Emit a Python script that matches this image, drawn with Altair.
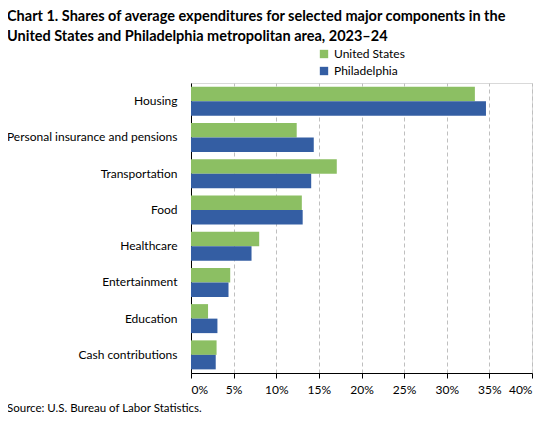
import altair as alt
import pandas as pd

categories = ["Housing", "Personal insurance and pensions", "Transportation", "Food",
              "Healthcare", "Entertainment", "Education", "Cash contributions"]
us_values = [33.3, 12.4, 17.1, 13.0, 8.0, 4.6, 2.0, 3.0]
phl_values = [34.6, 14.4, 14.1, 13.1, 7.1, 4.4, 3.1, 2.9]
series = ["United States", "Philadelphia"]
colors = ["#8cbf63", "#345ea3"]
x_ticks = [0, 5, 10, 15, 20, 25, 30, 35, 40]

rows = []
for c, u, p in zip(categories, us_values, phl_values):
    rows.append({"category": c, "series": series[0], "value": u / 100})
    rows.append({"category": c, "series": series[1], "value": p / 100})
df = pd.DataFrame(rows)

FONT = "Lato"

bars = alt.Chart(df).mark_bar().encode(
    y=alt.Y("category:N", sort=categories, title=None,
            scale=alt.Scale(paddingInner=0.2, paddingOuter=0.1),
            axis=alt.Axis(ticks=False, domainColor="#000000", labelColor="#000000",
                          labelFont=FONT, labelFontSize=12, labelPadding=14,
                          labelLimit=300)),
    yOffset=alt.YOffset("series:N", sort=series),
    x=alt.X("value:Q", title=None,
            scale=alt.Scale(domain=[0, 0.4], nice=False),
            axis=alt.Axis(values=[t / 100 for t in x_ticks], format=".0%",
                          grid=True, gridColor="#bfbfbf", gridDash=[4, 3],
                          domainColor="#000000", tickColor="#000000", tickSize=5,
                          labelColor="#000000", labelFont=FONT, labelFontSize=12,
                          labelPadding=6)),
    color=alt.Color("series:N", sort=series,
                    scale=alt.Scale(domain=series, range=colors),
                    legend=alt.Legend(title=None, orient="none", legendX=127, legendY=-35,
                                      symbolType="square", symbolSize=70,
                                      labelFont=FONT, labelFontSize=12,
                                      labelColor="#000000", rowPadding=5,
                                      symbolStrokeWidth=0)),
)

source = alt.Chart(pd.DataFrame({"t": ["Source: U.S. Bureau of Labor Statistics."]})).mark_text(
    align="left", baseline="middle", font=FONT, fontSize=11.5, color="#000000"
).encode(text="t:N", x=alt.value(-184), y=alt.value(326))

chart = alt.layer(bars, source).properties(
    width=341, height=290,
    autosize=alt.AutoSizeParams(type="none"),
    padding={"left": 183, "top": 75, "right": 12, "bottom": 42},
    title=alt.TitleParams(
        text=["Chart 1. Shares of average expenditures for selected major components in the",
              "United States and Philadelphia metropolitan area, 2023\u201324"],
        anchor="start", frame="group", dx=-184, offset=4,
        font=FONT, fontSize=14.5, fontWeight="bold", color="#000000", lineHeight=20,
    ),
).configure_view(stroke="#d9d9d9")

chart.save("out.html", embed_options={"renderer": "svg", "actions": False})
